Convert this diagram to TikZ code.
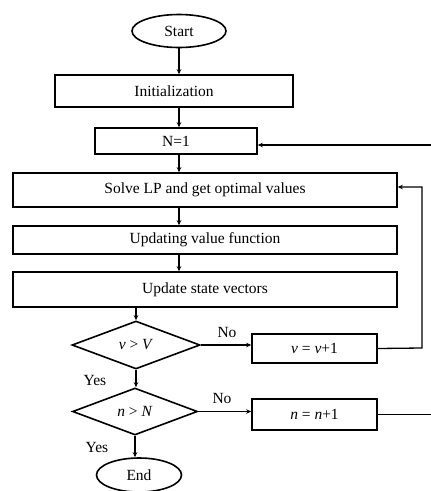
\documentclass[tikz,border=0pt]{standalone}
\usepackage{fontspec}
\setmainfont{Liberation Serif}
\usetikzlibrary{shapes.geometric,arrows.meta,calc}

\tikzset{
  base/.style={draw, line width=1.6pt, inner sep=0pt, font=\fontsize{15.5}{17}\selectfont},
  procbox/.style={base, rectangle},
  term/.style={base, ellipse},
  decide/.style={base, diamond, aspect=2.6},
  flow/.style={line width=1.3pt, -{Stealth[length=5pt,width=4.5pt]}},
  plain/.style={line width=1.5pt},
  lbl/.style={font=\fontsize{15.5}{17}\selectfont, inner sep=0pt}
}

\begin{document}
\begin{tikzpicture}[x=1pt, y=-1pt]
  \useasboundingbox (0,0) rectangle (431,491);

  % main column
  \node[term, minimum width=94pt, minimum height=33pt] (start) at (179,31) {Start};
  \node[procbox, minimum width=238pt, minimum height=32pt] (init) at (174,91) {Initialization};
  \node[procbox, minimum width=162pt, minimum height=26pt] (nset) at (176,141) {N=1};
  \node[procbox, minimum width=384pt, minimum height=34pt] (solve) at (205,190) {Solve LP and get optimal values};
  \node[procbox, minimum width=384pt, minimum height=28pt] (upd) at (205,240) {Updating value function};
  \node[procbox, minimum width=384pt, minimum height=35pt] (state) at (205,289.5) {Update state vectors};

  % decisions
  \node[decide, minimum width=128pt, minimum height=48pt] (dv) at (136,345) {\textit{v} > \textit{V}};
  \node[procbox, minimum width=125pt, minimum height=29pt] (incv) at (314.5,348.5) {\textit{v} = \textit{v}+1};
  \node[decide, minimum width=125pt, minimum height=47pt] (dn) at (135,411.5) {\textit{n} > \textit{N}};
  \node[procbox, minimum width=125pt, minimum height=31pt] (incn) at (314.5,414.5) {\textit{n} = \textit{n}+1};
  \node[term, minimum width=85pt, minimum height=34pt] (stop) at (139,475) {End};

  % vertical flow
  \draw[flow] (start.south) -- (start.south |- init.north);
  \draw[flow] (start.south |- init.south) -- (start.south |- nset.north);
  \draw[flow] (start.south |- nset.south) -- (start.south |- solve.north);
  \draw[flow] (start.south |- solve.south) -- (start.south |- upd.north);
  \draw[flow] (start.south |- upd.south) -- (start.south |- state.north);
  \draw[flow] (dv.north |- state.south) -- (dv.north);
  \draw[flow] (dv.south) -- (dv.south |- dn.north);
  \draw[flow] (dn.south) -- (dn.south |- stop.north);

  % branches
  \draw[flow] (dv.east) -- (dv.east -| incv.west);
  \draw[flow] (dn.east) -- (dn.east -| incn.west);

  % loop back to the LP step
  \coordinate (fb) at (422,348);
  \draw[flow] (incv.east) -- (fb) |- ([yshift=3pt]solve.east);

  % outer loop, leaving and re-entering at the right edge
  \coordinate (outn) at (431,414.5);
  \coordinate (inn) at (431,145);
  \draw[plain] (incn.east) -- (outn);
  \draw[flow] (inn) -- (inn -| nset.east);

  % branch labels
  \node[lbl] (no1) at (227,332) {No};
  \node[lbl] (yes1) at (95,380) {Yes};
  \node[lbl] (no2) at (222,398) {No};
  \node[lbl] (yes2) at (97,447) {Yes};
\end{tikzpicture}
\end{document}
